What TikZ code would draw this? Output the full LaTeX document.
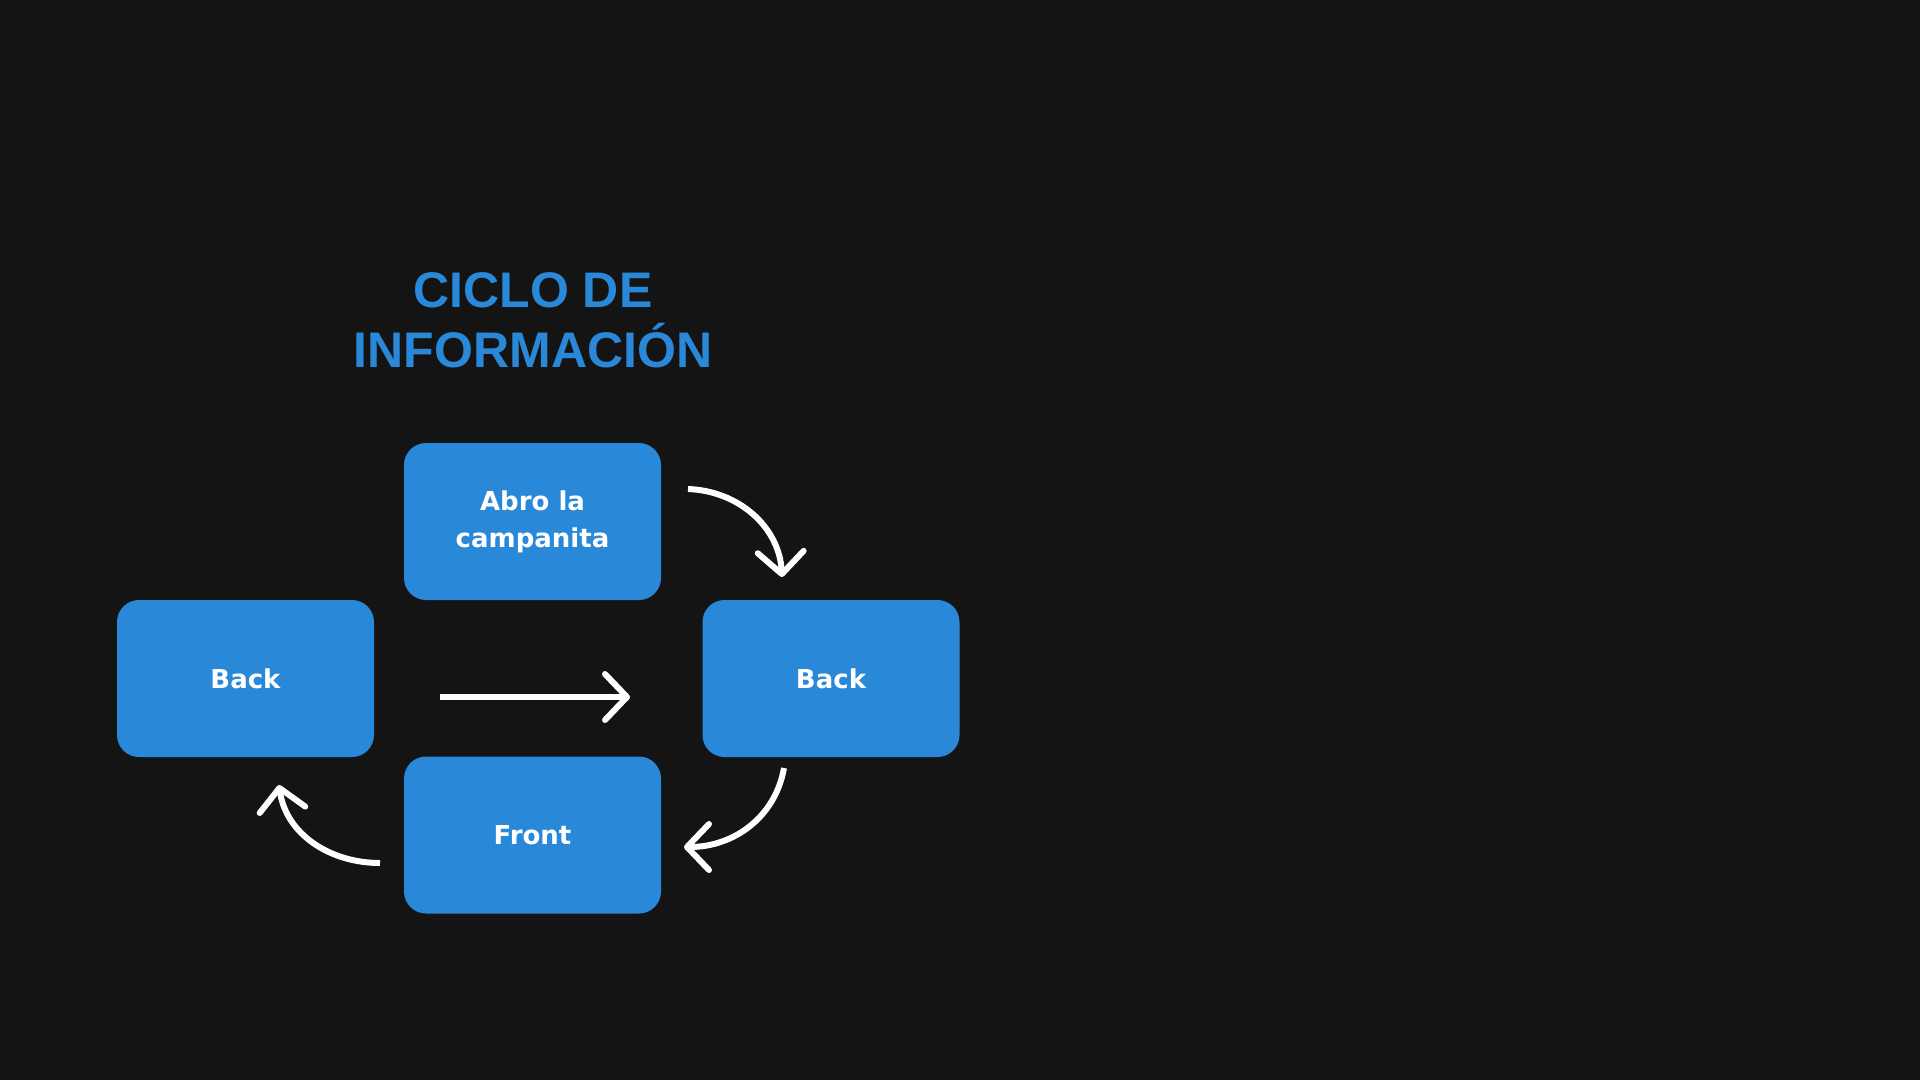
\documentclass[tikz,border=0pt]{standalone}
\usepackage{fontspec}
\setmainfont{Liberation Sans}
\newfontfamily\boxfont{DejaVu Sans}
\usetikzlibrary{arrows.meta}
\definecolor{bgdark}{HTML}{141414}
\definecolor{boxblue}{HTML}{2A88D8}

\begin{document}
\begin{tikzpicture}[
		x=1pt,
		y=-1pt,
		line width=6pt
	]
		\tikzstyle{box}=[
			rectangle,
			rounded corners=22pt,
			fill=boxblue,
			text=white,
			font=\boxfont\fontsize{26}{37}\selectfont\bfseries,
			align=center,
			minimum width=257pt,
			minimum height=157pt,
			inner sep=0pt
		]
		\tikzstyle{flow}=[
			draw=white,
			-{Straight Barb[length=22pt,width=46pt,round]}
		]

		% background
		\fill[bgdark] (0,0) rectangle (1920,1080);
		\useasboundingbox (0,0) rectangle (1920,1080);

		\node[text=boxblue, font=\fontsize{50}{60}\selectfont\bfseries, align=center] (title) at (533,320) {CICLO DE\\INFORMACIÓN};

		\node[box] (abro) at (532.5,521.5) {Abro la\\campanita};
		\node[box] (backl) at (245.5,678.5) {Back};
		\node[box] (backr) at (831,678.5) {Back};
		\node[box] (front) at (532.5,835) {Front};

		% free ends of the arrows
		\coordinate (a1) at (688,489);
		\coordinate (b1) at (782,577);
		\coordinate (a2) at (440,697);
		\coordinate (b2) at (630,697);
		\coordinate (a3) at (784,768);
		\coordinate (b3) at (684,847);
		\coordinate (a4) at (380,863);
		\coordinate (b4) at (279,785);

		\draw[flow] (a1) to[out=-2,in=93] (b1);
		\draw[flow] (a2) -- (b2);
		\draw[flow] (a3) to[out=-100,in=0] (b3);
		\draw[flow] (a4) to[out=180,in=-82] (b4);
	\end{tikzpicture}
\end{document}
